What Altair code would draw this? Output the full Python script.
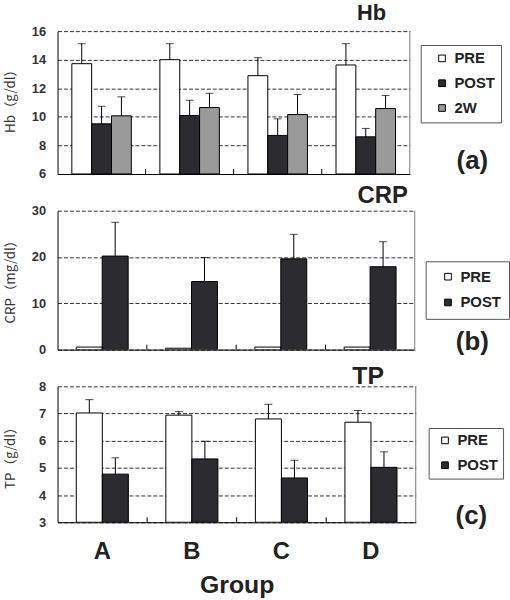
import altair as alt
import pandas as pd

FONT = "Liberation Sans"

groups = ["A", "B", "C", "D"]

# Panel (a) Hb
hb_series = ["PRE", "POST", "2W"]
hb_pre = [13.72, 14.0, 12.88, 13.63]
hb_pre_sd = [1.40, 1.12, 1.26, 1.49]
hb_post = [9.51, 10.09, 8.70, 8.60]
hb_post_sd = [1.23, 1.07, 1.16, 0.59]
hb_2w = [10.07, 10.65, 10.16, 10.58]
hb_2w_sd = [1.33, 1.00, 1.40, 0.91]

# Panel (b) CRP
crp_series = ["PRE", "POST"]
crp_pre = [0.55, 0.3, 0.55, 0.55]
crp_pre_sd = [0, 0, 0, 0]
crp_post = [20.2, 14.7, 19.6, 17.9]
crp_post_sd = [7.3, 5.2, 5.3, 5.4]

# Panel (c) TP
tp_series = ["PRE", "POST"]
tp_pre = [7.02, 6.94, 6.80, 6.68]
tp_pre_sd = [0.49, 0.13, 0.54, 0.43]
tp_post = [4.77, 5.33, 4.63, 5.02]
tp_post_sd = [0.60, 0.65, 0.65, 0.57]

WHITE, DARK, GRAY = "#ffffff", "#2b2b30", "#9a9a9a"


def make_df(series, vals, sds):
    rows = []
    for s, v, d in zip(series, vals, sds):
        for g, vv, dd in zip(groups, v, d):
            rows.append({"group": g, "series": s, "value": vv, "upper": vv + dd, "sd": dd})
    return pd.DataFrame(rows)


def panel(df, series, colors, ydom, yvals, ytitle, tyoff, W, H, title, tsize, tx, ty,
          label, lx, ly, leg, show_x):
    if show_x:
        xaxis = alt.Axis(labels=True, ticks=False, domain=True, domainColor="black",
                         labelAngle=0, labelFontSize=24, labelFontWeight="bold",
                         labelFont=FONT, labelColor="#222", labelPadding=18,
                         title="Group", titleFontSize=25, titleFontWeight="bold",
                         titleFont=FONT, titleColor="#222", titlePadding=9)
    else:
        xaxis = alt.Axis(labels=False, ticks=False, domain=True, domainColor="black",
                         title=None)
    x_enc = alt.X("group:N", scale=alt.Scale(domain=groups, paddingInner=0, paddingOuter=0),
                  axis=xaxis)
    xo = alt.XOffset("series:N", sort=series,
                     scale=alt.Scale(domain=series, paddingOuter=0.72, paddingInner=0))
    yaxis = alt.Axis(values=yvals, grid=True, gridDash=[4, 2], gridColor="#333",
                     gridWidth=1, ticks=False, domainColor="black",
                     labelOverlap=False, labelFlush=False,
                     labelFontSize=13, labelFontWeight="bold", labelFont=FONT,
                     labelColor="#333", labelPadding=12,
                     title=ytitle, titleFontSize=13.5, titleFontWeight="normal",
                     titleFont="Noto Sans CJK JP", titleColor="#333",
                     titleX=-47, titleY=H / 2 + tyoff, titleAngle=-90,
                     titleAlign="center", titleBaseline="middle")
    yscale = alt.Scale(domain=ydom, nice=False, zero=False)
    y_enc = alt.Y("value:Q", scale=yscale, axis=yaxis)
    color = alt.Color("series:N", sort=series,
                      scale=alt.Scale(domain=series, range=colors),
                      legend=alt.Legend(title=None, orient="none",
                                        legendX=leg[0], legendY=leg[1],
                                        strokeColor="#555", fillColor="white",
                                        padding=leg[2], symbolOffset=leg[3],
                                        symbolType="square", symbolSize=45,
                                        symbolStrokeColor="black", symbolStrokeWidth=1,
                                        labelFontSize=15, labelFontWeight="bold",
                                        labelFont=FONT, labelColor="#222",
                                        labelOffset=5, rowPadding=leg[4]))
    bars = alt.Chart(df).mark_bar(stroke="black", strokeWidth=1, clip=True).encode(
        x=x_enc, xOffset=xo, y=y_enc, y2=alt.datum(ydom[0]), color=color)
    errdf = df[df["sd"] > 0]
    err = alt.Chart(errdf).mark_rule(color="black", strokeWidth=1).encode(
        x=x_enc, xOffset=xo, y=y_enc, y2="upper:Q")
    cap = alt.Chart(errdf).mark_tick(color="black", thickness=1, size=8).encode(
        x=x_enc, xOffset=xo, y=alt.Y("upper:Q", scale=yscale, axis=yaxis))
    bt = alt.Chart(pd.DataFrame({"group": groups[1:]})).mark_rule(
        color="black", strokeWidth=1).encode(
        x=alt.X("group:N", bandPosition=0,
                scale=alt.Scale(domain=groups, paddingInner=0, paddingOuter=0)),
        y=alt.value(H), y2=alt.value(H - 5))
    border = alt.Chart(pd.DataFrame({"b": [1]})).mark_rule(color="#777").encode(
        x=alt.value(W), y=alt.value(0), y2=alt.value(H))
    ttl = alt.Chart(pd.DataFrame({"t": [title]})).mark_text(
        align="right", baseline="alphabetic", fontSize=tsize, fontWeight="bold",
        font=FONT, color="#222").encode(text="t:N", x=alt.value(tx), y=alt.value(ty))
    lbl = alt.Chart(pd.DataFrame({"t": [label]})).mark_text(
        align="center", baseline="middle", fontSize=26, fontWeight="bold",
        font=FONT, color="#222").encode(text="t:N", x=alt.value(lx), y=alt.value(ly))
    return alt.layer(bars, err, cap, bt, border, ttl, lbl).properties(width=W, height=H)


df_a = make_df(hb_series, [hb_pre, hb_post, hb_2w], [hb_pre_sd, hb_post_sd, hb_2w_sd])
df_b = make_df(crp_series, [crp_pre, crp_post], [crp_pre_sd, crp_post_sd])
df_c = make_df(tp_series, [tp_pre, tp_post], [tp_pre_sd, tp_post_sd])

pa = panel(df_a, hb_series, [WHITE, DARK, GRAY], [6, 16], [6, 8, 10, 12, 14, 16],
           "Hb（g/dl）", -5, 355, 144, "Hb", 22, 331, -11, "(a)", 418, 131,
           (366, 14, 6, 8, 9), False)
pb = panel(df_b, crp_series, [WHITE, DARK], [0, 30], [0, 10, 20, 30],
           "CRP（mg/dl）", -2, 360, 140, "CRP", 24, 353, -8, "(b)", 418, 132,
           (371, 51, 8, 7, 10), False)
pc = panel(df_c, tp_series, [WHITE, DARK], [3, 8], [3, 4, 5, 6, 7, 8],
           "TP（g/dl）", 0, 361, 137, "TP", 25, 329, -2, "(c)", 417, 131,
           (374, 42, 5, 4, 9), True)

chart = alt.vconcat(pa, pb, pc, spacing=37, bounds="flush").resolve_scale(
    x="independent", y="independent", color="independent", xOffset="independent"
).resolve_legend(color="independent").configure_view(stroke=None).properties(
    padding={"left": 3, "top": 0, "right": 0, "bottom": 0},
    background="white")

chart.save("out.html", embed_options={"renderer": "svg", "actions": False})
